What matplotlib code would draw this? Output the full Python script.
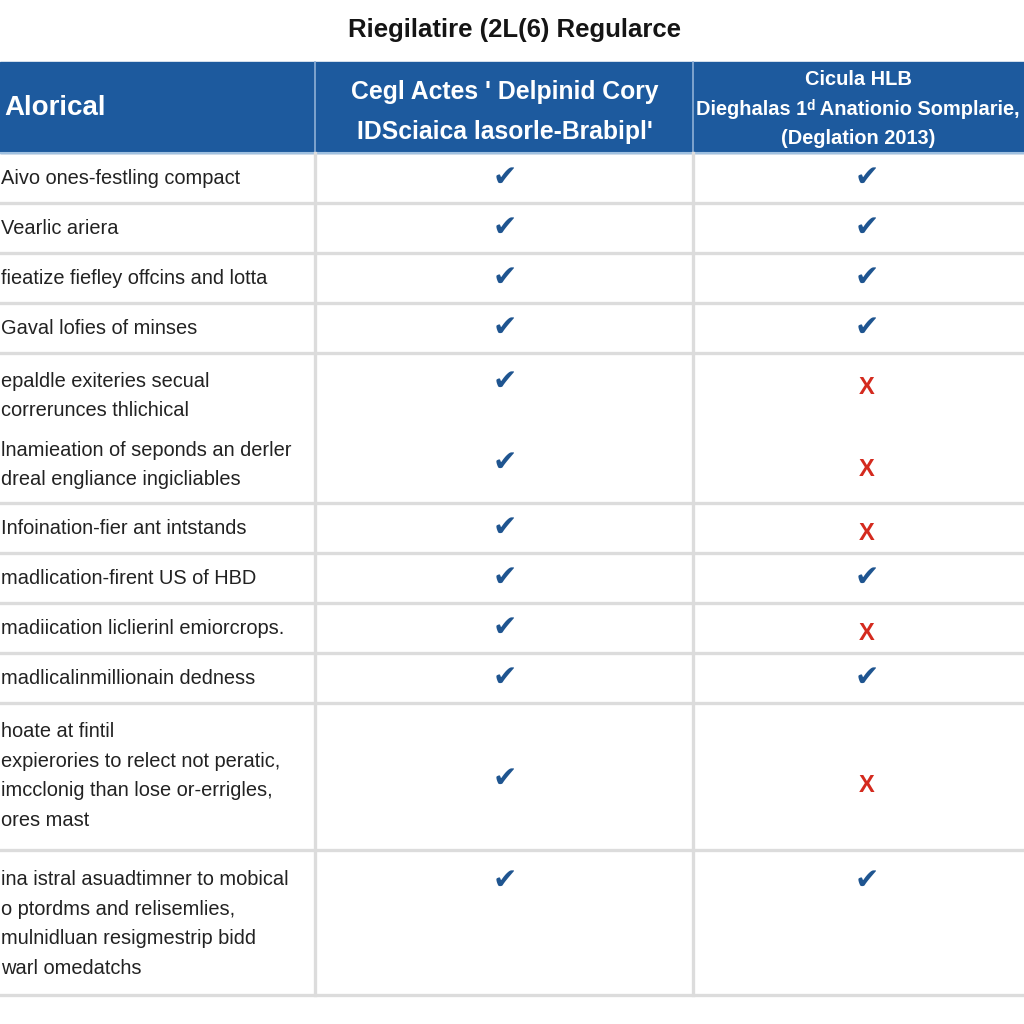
import matplotlib
matplotlib.use("Agg")
import matplotlib.pyplot as plt
from matplotlib.patches import Rectangle

# table content
title = "Riegilatire (2L(6) Regularce"
header_labels = [
    "Alorical",
    "Cegl Actes ' Delpinid Cory\nIDSciaica lasorle-Brabipl'",
    "Cicula HLB\nDieghalas 1ᵈ Anationio Somplarie,\n(Deglation 2013)",
]
row_labels = [
    "Aivo ones-festling compact",
    "Vearlic ariera",
    "fieatize fiefley offcins and lotta",
    "Gaval lofies of minses",
    "epaldle exiteries secual\ncorrerunces thlichical",
    "lnamieation of seponds an derler\ndreal engliance ingicliables",
    "Infoination-fier ant intstands",
    "madlication-firent US of HBD",
    "madiication liclierinl emiorcrops.",
    "madlicalinmillionain dedness",
    "hoate at fintil\nexpierories to relect not peratic,\nimcclonig than lose or-errigles,\nores mast",
    "ina istral asuadtimner to mobical\no ptordms and relisemlies,\nmulnidluan resigmestrip bidd\nwarl omedatchs",
]
col_a = [True, True, True, True, True, True, True, True, True, True, True, True]
col_b = [True, True, True, True, False, False, False, True, False, True, False, True]

# layout (pixel coords, y downwards)
grid_y = [153, 203, 253, 303, 353, 503, 553, 603, 653, 703, 850, 995]
col_x = [315, 693]
text_y = [178, 228, 278, 328, 396, 465, 528, 578, 628, 678, 776, 924]
mark_y = [178, 228, 278, 328, 382, 463, 528, 578, 628, 678, 779, 881]
mark_x = [505, 867]

HEADER_BLUE = "#1d5a9e"
CHECK_BLUE = "#1f5590"
CROSS_RED = "#d42a1e"
GRID = "#dcdcdc"

fig = plt.figure(figsize=(10.24, 10.24), dpi=100)
ax = fig.add_axes([0, 0, 1, 1])
ax.set_xlim(0, 1024)
ax.set_ylim(1024, 0)
ax.axis("off")

sans = ["Liberation Sans", "DejaVu Sans"]

ax.text(515, 30, title, ha="center", va="center", fontsize=18.5,
        family=sans, weight="bold", color="#151515")

# header band
ax.add_patch(Rectangle((0, 62), 1024, grid_y[0] - 62, color=HEADER_BLUE, zorder=1))
ax.text(4, 108, header_labels[0], ha="left", va="center", fontsize=20,
        family=sans, weight="bold", color="white", zorder=3)
ax.text(505, 112, header_labels[1], ha="center", va="center", fontsize=17.8,
        family=sans, weight="bold", color="white", linespacing=1.85, zorder=3)
ax.text(858, 109, header_labels[2], ha="center", va="center", fontsize=14.4,
        family=sans, weight="bold", color="white", linespacing=1.65, zorder=3)
for x in col_x:
    ax.plot([x, x], [62, grid_y[0]], color="#8fb0d6", lw=1.2, zorder=2)

# grid
for y in grid_y[1:]:
    ax.plot([0, 1024], [y, y], color=GRID, lw=2.4, zorder=2)
ax.plot([0, 1024], [grid_y[0], grid_y[0]], color="#9fc0e0", lw=1.5, zorder=2)
for x in col_x:
    ax.plot([x, x], [grid_y[0], grid_y[-1]], color=GRID, lw=2.4, zorder=2)

# rows
for label, ty, my, a, b in zip(row_labels, text_y, mark_y, col_a, col_b):
    ax.text(1, ty, label, ha="left", va="center", fontsize=14.4,
            family=sans, color="#222222", linespacing=1.72, zorder=3)
    for ok, mx in zip((a, b), mark_x):
        if ok:
            ax.text(mx, my, "✔", ha="center", va="center", fontsize=21,
                    family="DejaVu Sans", color=CHECK_BLUE, zorder=3)
        else:
            ax.text(mx, my + 6, "X", ha="center", va="center", fontsize=17,
                    family=sans, weight="bold", color=CROSS_RED, zorder=3)

fig.savefig("out.png", dpi=100, facecolor="white")
